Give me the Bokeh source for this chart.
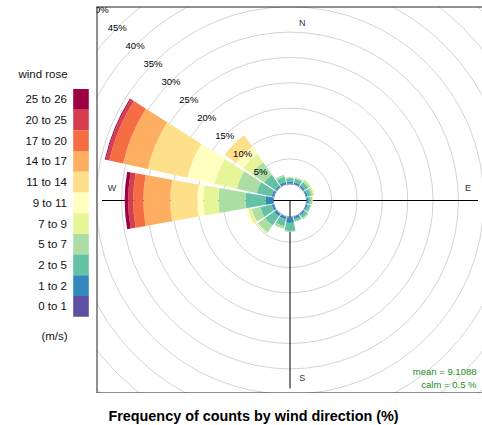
import numpy as np
from bokeh.plotting import figure
from bokeh.models import Range1d
from bokeh.layouts import row, column
from bokeh.core.properties import value
from bokeh.embed import file_html
from bokeh.resources import INLINE

# ---------------- data ----------------
directions = ["N", "NNE", "NE", "ENE", "E", "ESE", "SE", "SSE",
              "S", "SSW", "SW", "WSW", "W", "WNW", "NW", "NNW"]
speed_bins = ["0 to 1", "1 to 2", "2 to 5", "5 to 7", "7 to 9", "9 to 11",
              "11 to 14", "14 to 17", "17 to 20", "20 to 25", "25 to 26"]
bin_colors = ["#5E4FA2", "#3288BD", "#66C2A5", "#ABDDA4", "#E6F598", "#FFFFBF",
              "#FEE08B", "#FDAE61", "#F46D43", "#D53E4F", "#9E0142"]

# frequency (%) of each speed bin, per direction (N ... NNW)
f_0_1   = [0.15, 0.10, 0.10, 0.10, 0.10, 0.10, 0.10, 0.10, 0.15, 0.10, 0.10, 0.10, 0.10, 0.10, 0.10, 0.10]
f_1_2   = [0.35, 0.35, 0.30, 0.30, 0.25, 0.25, 0.30, 0.40, 1.05, 0.50, 0.50, 0.40, 1.50, 0.40, 0.30, 0.40]
f_2_5   = [0.70, 0.75, 0.80, 0.70, 0.55, 0.55, 0.60, 0.50, 1.60, 1.40, 2.20, 2.30, 3.95, 3.00, 2.60, 1.10]
f_5_7   = [0.15, 0.25, 0.40, 0.40, 0.30, 0.20, 0.30, 0.10, 0.20, 0.50, 1.70, 1.70, 5.35, 4.00, 3.00, 0.40]
f_7_9   = [0.00, 0.05, 0.25, 0.25, 0.15, 0.00, 0.05, 0.00, 0.00, 0.00, 0.30, 0.70, 3.00, 4.50, 2.00, 0.00]
f_9_11  = [0.00, 0.00, 0.00, 0.00, 0.00, 0.00, 0.00, 0.00, 0.00, 0.00, 0.00, 0.40, 1.20, 5.50, 1.70, 0.00]
f_11_14 = [0.00, 0.00, 0.00, 0.00, 0.00, 0.00, 0.00, 0.00, 0.00, 0.00, 0.00, 0.00, 5.30, 8.00, 2.80, 0.00]
f_14_17 = [0.00, 0.00, 0.00, 0.00, 0.00, 0.00, 0.00, 0.00, 0.00, 0.00, 0.00, 0.00, 5.30, 5.00, 0.00, 0.00]
f_17_20 = [0.00, 0.00, 0.00, 0.00, 0.00, 0.00, 0.00, 0.00, 0.00, 0.00, 0.00, 0.00, 2.00, 2.80, 0.00, 0.00]
f_20_25 = [0.00, 0.00, 0.00, 0.00, 0.00, 0.00, 0.00, 0.00, 0.00, 0.00, 0.00, 0.00, 1.00, 0.70, 0.00, 0.00]
f_25_26 = [0.00, 0.00, 0.00, 0.00, 0.00, 0.00, 0.00, 0.00, 0.00, 0.00, 0.00, 0.00, 0.70, 0.20, 0.00, 0.00]

ring_percents = [5, 10, 15, 20, 25, 30, 35, 40, 45, 50]
mean_speed = 9.1088
calm_pct = 0.5
legend_title = "wind rose"
legend_unit = "(m/s)"
title_text = "Frequency of counts by wind direction (%)"

FONT = value("Liberation Sans")

# ---------------- geometry (page pixels) ----------------
S = 5.07                 # pixels per percent
OFFSET = 16.3 / S        # central hole (percent units)
HALF = np.deg2rad(10.0)  # half wedge width
LEG_W = 96
W_MAIN = 386
H_ROW = 393
TOP_GAP = 6
CXP, CYP = 289.5, 200.0  # rose centre on page

fx0, fx1 = LEG_W, LEG_W + W_MAIN
fy0, fy1 = TOP_GAP, H_ROW

p = figure(width=W_MAIN, height=H_ROW,
           x_range=Range1d(-(CXP - fx0) / S, (fx1 - CXP) / S),
           y_range=Range1d(-(fy1 - CYP) / S, (CYP - fy0) / S),
           output_backend="svg", toolbar_location=None,
           x_axis_type=None, y_axis_type=None, title=None,
           min_border_left=0, min_border_right=0, min_border_top=TOP_GAP, min_border_bottom=0)
p.outline_line_color = None
p.background_fill_color = "white"

# grid circles
p.circle(x=0, y=0, radius=[OFFSET + r for r in [0] + ring_percents + [55]],
         fill_color=None, line_color="#d4d4d4", line_width=1)

# cross lines
R = 188 / S
p.segment(x0=[0, -R], y0=[-R, 0], x1=[0, R], y1=[0, 0], line_color="black", line_width=1)

# wedges
series = np.array([f_0_1, f_1_2, f_2_5, f_5_7, f_7_9, f_9_11,
                   f_11_14, f_14_17, f_17_20, f_20_25, f_25_26])
cum = np.cumsum(series, axis=0)
dir_deg = np.arange(len(directions)) * 22.5
centre_ang = np.deg2rad(90 - dir_deg)
for b in range(len(speed_bins)):
    lo = cum[b] - series[b]
    hi = cum[b]
    keep = series[b] > 0
    if not keep.any():
        continue
    p.annular_wedge(x=0, y=0,
                    inner_radius=list(OFFSET + lo[keep]),
                    outer_radius=list(OFFSET + hi[keep]),
                    start_angle=list(centre_ang[keep] - HALF),
                    end_angle=list(centre_ang[keep] + HALF),
                    fill_color=bin_colors[b], line_color=None)

# ring labels along NW
lab_ang = np.deg2rad(135)
rr = np.array([OFFSET + r for r in ring_percents])
p.text(x=list(rr * np.cos(lab_ang)), y=list(rr * np.sin(lab_ang)),
       text=[f"{r}%" for r in ring_percents],
       text_align="center", text_baseline="middle",
       text_font=FONT, text_font_size="9.5px", text_color="black")

# compass labels
ALONG, PERP = 35.1, 2.4
p.text(x=[PERP, ALONG, PERP, -ALONG], y=[ALONG, PERP, -ALONG, PERP],
       text=["N", "E", "S", "W"], text_align="center", text_baseline="middle",
       text_font=FONT, text_font_size="9px", text_color="#333333")

# mean / calm
xr = (476 - CXP) / S
p.text(x=[xr, xr], y=[-(370.7 - CYP) / S, -(384.3 - CYP) / S],
       text=[f"mean = {mean_speed}", f"calm = {calm_pct} %"],
       text_align="right", text_baseline="middle",
       text_font=FONT, text_font_size="9.5px", text_color="forestgreen")

# panel border (left, top, bottom)
x0, x1 = p.x_range.start, p.x_range.end
y0, y1 = p.y_range.start, p.y_range.end
p.segment(x0=[x0, x0, x0], y0=[y0, y1, y0], x1=[x0, x1, x1], y1=[y1, y1, y0],
          line_color="#222222", line_width=2)

# ---------------- legend ----------------
leg = figure(width=LEG_W, height=H_ROW, x_range=Range1d(0, LEG_W), y_range=Range1d(H_ROW, 0),
             output_backend="svg", toolbar_location=None,
             x_axis_type=None, y_axis_type=None, title=None,
             min_border_left=0, min_border_right=0, min_border_top=0, min_border_bottom=0)
leg.outline_line_color = None
nb = len(speed_bins)
box_top, box_h = 83.7, 21.03
tops = [box_top + i * box_h for i in range(nb)]
order = list(range(nb))[::-1]
leg.quad(left=72.7, right=88.3, top=tops, bottom=[t + box_h for t in tops],
         fill_color=[bin_colors[k] for k in order], line_color=None)
leg.text(x=66.5, y=[t + box_h / 2 for t in tops], text=[speed_bins[k] for k in order],
         text_align="right", text_baseline="middle",
         text_font=FONT, text_font_size="11.5px", text_color="#111111")
leg.text(x=[42.5, 54], y=[68.5, 335], text=[legend_title, legend_unit],
         text_align="center", text_baseline="middle",
         text_font=FONT, text_font_size="11.5px", text_color="#111111")

# ---------------- title ----------------
TITLE_H = 31
tf = figure(width=LEG_W + W_MAIN, height=TITLE_H, x_range=Range1d(0, LEG_W + W_MAIN),
            y_range=Range1d(H_ROW + TITLE_H, H_ROW),
            output_backend="svg", toolbar_location=None,
            x_axis_type=None, y_axis_type=None, title=None,
            min_border_left=0, min_border_right=0, min_border_top=0, min_border_bottom=0)
tf.outline_line_color = None
tf.text(x=[253], y=[415], text=[title_text], text_align="center", text_baseline="middle",
        text_font=FONT, text_font_size="14.4px", text_font_style="bold", text_color="black")

layout = column(row(leg, p, spacing=0), tf, spacing=0)
open("out.html", "w").write(file_html(layout, INLINE))
